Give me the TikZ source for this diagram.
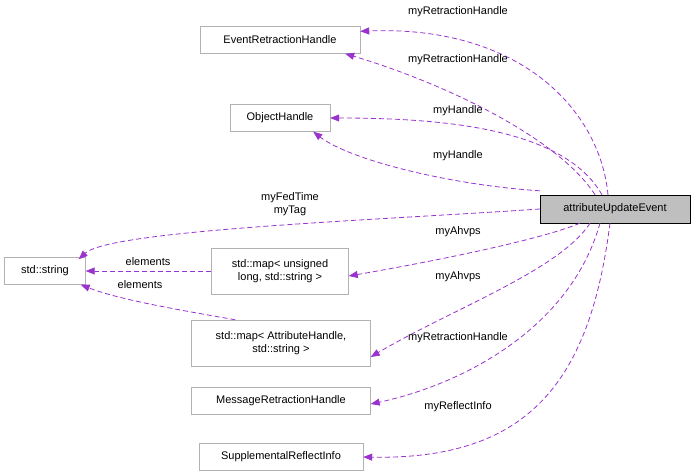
\documentclass[tikz,border=0pt]{standalone}
\usepackage{fontspec}
\setmainfont{Liberation Sans}
\usetikzlibrary{arrows.meta}
\definecolor{edge}{HTML}{9A32CD}
\begin{document}
\begin{tikzpicture}[x=1pt,y=-1pt,font=\fontsize{11}{13}\selectfont,
  box/.style={draw=black!30,fill=white,inner sep=0pt,align=center},
  main/.style={draw=black,fill=black!25,inner sep=0pt},
  rel/.style={draw=edge,line width=0.8pt,dash pattern=on 5pt off 3pt,-{Triangle[length=9pt,width=7pt,fill=edge]}},
  lbl/.style={inner sep=1pt}]
\useasboundingbox (0,0) rectangle (696,476);
\node[main,minimum width=150,minimum height=28] (aue) at (615,209) {attributeUpdateEvent};
\node[box,minimum width=160,minimum height=27] (erh) at (280,40) {EventRetractionHandle};
\node[box,minimum width=100,minimum height=27] (oh) at (280,118) {ObjectHandle};
\node[box,minimum width=81,minimum height=27] (str) at (45,271) {std::string};
\node[box,minimum width=137,minimum height=46] (map1) at (280,271) {std::map< unsigned\\long, std::string >};
\node[box,minimum width=179,minimum height=46] (map2) at (281,343) {std::map< AttributeHandle,\\std::string >};
\node[box,minimum width=179,minimum height=27] (mrh) at (281,401) {MessageRetractionHandle};
\node[box,minimum width=164,minimum height=27] (sri) at (281,457) {SupplementalReflectInfo};

\draw[rel] ([xshift=-7]aue.north) .. controls (600,110) and (520,25) .. ([yshift=-5]erh.north east);
\node[lbl] at (458,12) {myRetractionHandle};
\draw[rel] ([xshift=-20]aue.north) .. controls (560,140) and (450,85) .. ([xshift=-15]erh.south east);
\node[lbl] at (458,60) {myRetractionHandle};
\draw[rel] ([xshift=-13]aue.north) .. controls (565,130) and (450,118) .. (oh.east);
\node[lbl] at (458,111) {myHandle};
\draw[rel] ([yshift=4]aue.north west) .. controls (450,185) and (350,160) .. ([xshift=-17]oh.south east);
\node[lbl] at (458,156) {myHandle};
\draw[rel] (aue.west) .. controls (380,220) and (110,230) .. ([xshift=-7,yshift=-2]str.north east);
\node[lbl,align=center] at (290,204) {myFedTime\\myTag};
\draw[rel] ([xshift=-35]aue.south) .. controls (540,240) and (430,262) .. ([yshift=-5]map1.east);
\node[lbl] at (458,232) {myAhvps};
\draw[rel] ([xshift=-25]aue.south) .. controls (560,270) and (450,310) .. ([yshift=-14]map2.east);
\node[lbl] at (458,277) {myAhvps};
\draw[rel] ([xshift=-15]aue.south) .. controls (570,330) and (460,385) .. ([yshift=-3]mrh.east);
\node[lbl] at (458,338) {myRetractionHandle};
\draw[rel] ([xshift=-5]aue.south) .. controls (590,380) and (530,460) .. (sri.east);
\node[lbl] at (458,407) {myReflectInfo};
\draw[rel] (map1.west) -- (str.east);
\node[lbl] at (148,262) {elements};
\draw[rel] ([xshift=44]map2.north west) .. controls (180,310) and (120,300) .. ([xshift=-5]str.south east);
\node[lbl] at (140,285) {elements};
\end{tikzpicture}
\end{document}
